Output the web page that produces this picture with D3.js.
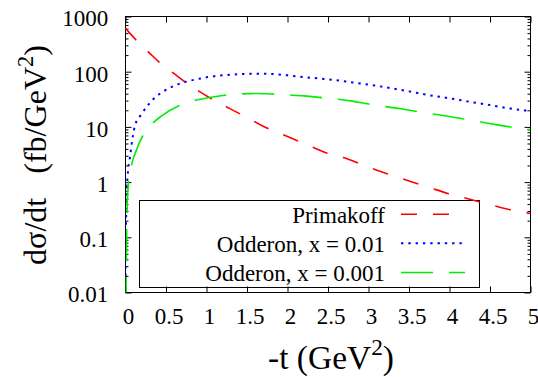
<!DOCTYPE html>
<html>
<head>
<meta charset="utf-8">
<script src="https://cdn.jsdelivr.net/npm/d3@7"></script>
<style>
  html, body { margin: 0; padding: 0; background: #fff; }
  svg { display: block; }
</style>
</head>
<body>
<svg id="chart" width="538" height="377"></svg>
<script>
// -t (GeV^2) sample points and dσ/dt (fb/GeV^2) for each curve
const primakoffT = [0, 0.15, 0.3, 0.45, 0.6, 0.75, 0.9, 1.1, 1.3, 1.5, 1.7, 2.0, 2.25, 2.5, 2.75, 3.0, 3.25, 3.5, 3.75, 4.0, 4.25, 4.5, 4.75, 5.0];
const primakoffV = [610, 350, 215, 135, 92, 63, 45, 30, 21, 14.8, 10.3, 6.7, 4.7, 3.3, 2.6, 1.86, 1.39, 1.05, 0.8, 0.61, 0.49, 0.39, 0.315, 0.27];

const odd01T = [0.001, 0.003, 0.006, 0.012, 0.022, 0.035, 0.056, 0.09, 0.12, 0.19, 0.27, 0.37, 0.48, 0.6, 0.75, 0.9, 1.0, 1.2, 1.4, 1.6, 1.8, 2.0, 2.2, 2.4, 2.6, 2.8, 3.0, 3.25, 3.5, 3.75, 4.0, 4.25, 4.5, 4.75, 5.0];
const odd01V = [0.02, 0.06, 0.15, 0.5, 1.07, 1.8, 2.9, 6.7, 10.9, 16.4, 24, 34.7, 45, 55.6, 66, 74, 79, 86, 90, 92, 91, 86, 80, 75, 70, 64, 58.5, 51, 44, 37.5, 33, 28.5, 24.8, 21.5, 19.3];

const odd001T = [0.003, 0.006, 0.01, 0.014, 0.02, 0.035, 0.06, 0.09, 0.12, 0.2, 0.3, 0.46, 0.64, 0.78, 1.0, 1.2, 1.4, 1.6, 1.8, 2.0, 2.2, 2.5, 2.8, 3.0, 3.4, 3.6, 4.0, 4.2, 4.57, 4.77, 5.0];
const odd001V = [0.005, 0.012, 0.03, 0.1, 0.35, 0.9, 1.6, 2.5, 3.35, 6.3, 10.2, 16.4, 23.4, 28, 33.3, 37, 39.3, 40.3, 39.5, 38, 36.5, 33, 29.3, 25.9, 21.3, 19, 15.4, 13.8, 11, 9.9, 8.85];

const xTicks = [0, 0.5, 1, 1.5, 2, 2.5, 3, 3.5, 4, 4.5, 5];
const xTickLabels = ["0", "0.5", "1", "1.5", "2", "2.5", "3", "3.5", "4", "4.5", "5"];
const yTicks = [0.01, 0.1, 1, 10, 100, 1000];
const yTickLabels = ["0.01", "0.1", "1", "10", "100", "1000"];

const seriesNames = ["Primakoff", "Odderon, x = 0.01", "Odderon, x = 0.001"];

const SERIF = "'Liberation Serif', 'Times New Roman', serif";
const svg = d3.select("#chart");
const L = 125.5, R = 530.5, T = 16.5, B = 292.5;

const x = d3.scaleLinear().domain([0, 5]).range([L, R]);
const y = d3.scaleLog().domain([0.01, 1000]).range([B, T]);

const series = [
  { name: seriesNames[0], t: primakoffT, v: primakoffV, color: "#ff0000", dash: "16,16", width: 1.6 },
  { name: seriesNames[1], t: odd01T, v: odd01V, color: "#0000ff", dash: "2.4,4.9", width: 2 },
  { name: seriesNames[2], t: odd001T, v: odd001V, color: "#00ee00", dash: "32,16", width: 1.6 }
];

svg.append("defs").append("clipPath").attr("id", "plotclip")
  .append("rect").attr("x", L).attr("y", T).attr("width", R - L).attr("height", B - T);

// frame
svg.append("rect").attr("x", L).attr("y", T).attr("width", R - L).attr("height", B - T)
  .attr("fill", "none").attr("stroke", "#000").attr("stroke-width", 1);

// x ticks (bottom and top, inward)
const xAxisB = d3.axisBottom(x).tickValues(xTicks).tickSize(-6).tickFormat((d, i) => xTickLabels[i]).tickSizeOuter(0);
const gxb = svg.append("g").attr("transform", `translate(0,${B})`).call(xAxisB);
gxb.attr("font-family", null).attr("font-size", null);
gxb.select(".domain").remove();
gxb.selectAll("text").style("font-family", SERIF).style("font-size", "23px").attr("fill", "#000")
  .attr("x", 2.5).attr("y", 15.5).attr("dy", "0.71em");
gxb.selectAll("line").attr("stroke", "#000");

const xAxisT = d3.axisTop(x).tickValues(xTicks).tickSize(-6).tickFormat("").tickSizeOuter(0);
const gxt = svg.append("g").attr("transform", `translate(0,${T})`).call(xAxisT);
gxt.select(".domain").remove();
gxt.selectAll("line").attr("stroke", "#000");

// y ticks: majors with labels, minors 2..9 per decade, on both sides
const minorTicks = [];
for (let e = -2; e < 3; e++) for (let m = 2; m <= 9; m++) minorTicks.push(m * Math.pow(10, e));

function yAxis(side, sel) {
  const isLeft = side === "left";
  const maj = (isLeft ? d3.axisLeft(y) : d3.axisRight(y)).tickValues(yTicks).tickSize(-6).tickSizeOuter(0)
    .tickFormat(isLeft ? (d, i) => yTickLabels[i] : "");
  const g = sel.append("g").attr("transform", `translate(${isLeft ? L : R},0)`).call(maj);
  g.attr("font-family", null).attr("font-size", null);
  g.select(".domain").remove();
  g.selectAll("line").attr("stroke", "#000");
  if (isLeft) g.selectAll("text").style("font-family", SERIF).style("font-size", "23px").attr("fill", "#000")
    .attr("x", -17.2).attr("dy", "0.41em");
  const mi = (isLeft ? d3.axisLeft(y) : d3.axisRight(y)).tickValues(minorTicks).tickSize(-3).tickFormat("").tickSizeOuter(0);
  const g2 = sel.append("g").attr("transform", `translate(${isLeft ? L : R},0)`).call(mi);
  g2.select(".domain").remove();
  g2.selectAll("line").attr("stroke", "#000");
}
yAxis("left", svg);
yAxis("right", svg);

// legend box
const legend = svg.append("g");
legend.append("rect").attr("x", 139.5).attr("y", 200.5).attr("width", 340).attr("height", 87)
  .attr("fill", "none").attr("stroke", "#000").attr("stroke-width", 1);
const rowY = [214.3, 243.3, 272.5];
series.forEach((s, i) => {
  legend.append("text").attr("x", 385).attr("y", rowY[i]).attr("dy", "0.36em")
    .attr("text-anchor", "end").style("font-family", SERIF).style("font-size", "23px").attr("fill", "#000").text(s.name);
  legend.append("line").attr("x1", 401).attr("x2", 465).attr("y1", rowY[i]).attr("y2", rowY[i])
    .attr("stroke", s.color).attr("stroke-width", s.width).attr("stroke-dasharray", s.dash);
});

// curves
const line = d3.line().x(d => x(d[0])).y(d => y(d[1])).curve(d3.curveMonotoneX);
const curves = svg.append("g").attr("clip-path", "url(#plotclip)");
series.forEach(s => {
  curves.append("path").datum(s.t.map((t, i) => [t, s.v[i]]))
    .attr("d", line).attr("fill", "none").attr("stroke", s.color)
    .attr("stroke-width", s.width).attr("stroke-dasharray", s.dash);
});

// axis title with a superscript; size is tuned so the title spans `span` px
function title(g, head, size, span) {
  const t = g.append("text").attr("text-anchor", "middle").style("font-family", SERIF).attr("fill", "#000");
  t.append("tspan").text(head);
  const sp = t.append("tspan").text("2");
  const cl = t.append("tspan").text(")");
  function setSize(fs) {
    t.style("font-size", fs + "px");
    sp.style("font-size", (fs * 0.7) + "px").attr("dy", -fs * 0.42);
    cl.attr("dy", fs * 0.42);
  }
  setSize(size);
  const w = t.node().getComputedTextLength();
  setSize(size * span / w);
  return t;
}

const gx = svg.append("g").attr("transform", "translate(331,369)");
title(gx, "-t (GeV", 30, 126);

const gy = svg.append("g").attr("transform", "translate(46,155) rotate(-90)");
title(gy, "dσ/dt\u2002 (fb/GeV", 30, 220);
</script>
</body>
</html>
